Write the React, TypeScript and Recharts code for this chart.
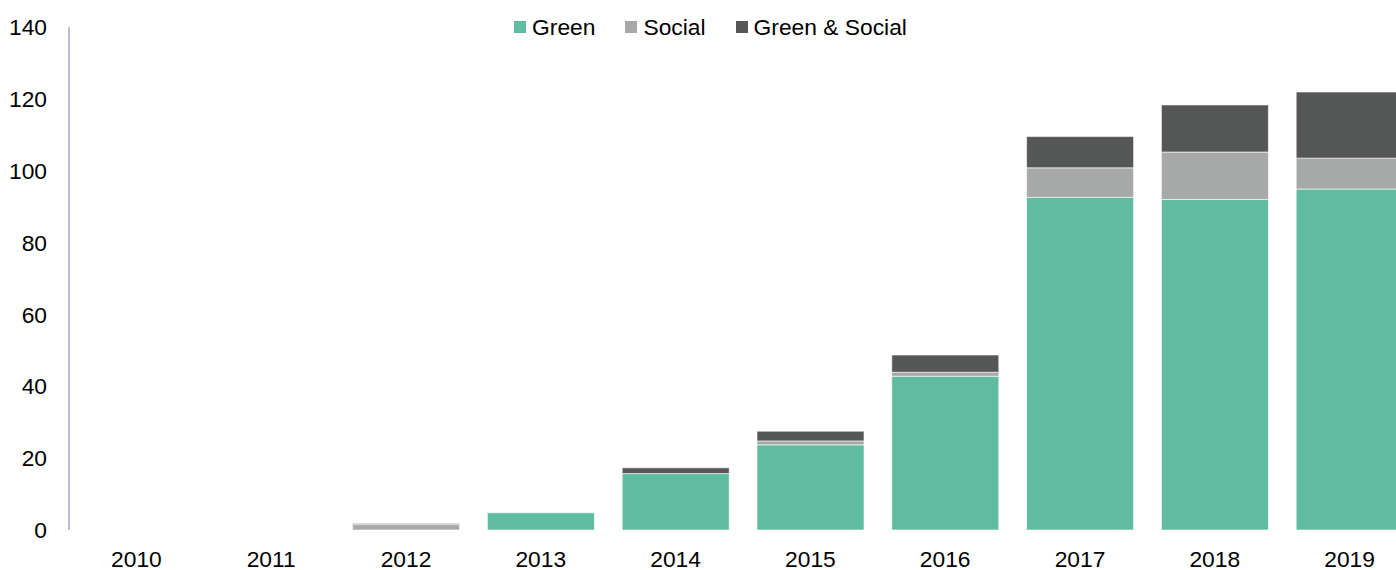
import React from 'react';
import { BarChart, Bar, XAxis, YAxis, Legend } from 'recharts';

const years = ['2010', '2011', '2012', '2013', '2014', '2015', '2016', '2017', '2018', '2019'];
const green = [0, 0, 0, 4.8, 15.7, 23.7, 42.8, 92.6, 92.0, 94.9];
const social = [0, 0, 1.5, 0, 0, 1.1, 1.1, 8.2, 13.2, 8.6];
const greenSocial = [0, 0, 0.3, 0, 1.6, 2.7, 4.8, 8.7, 13.1, 18.4];
const yTicks = [0, 20, 40, 60, 80, 100, 120, 140];

const seriesNames = ['Green', 'Social', 'Green & Social'];
const seriesColors = ['#5FBCA0', '#A7A9A8', '#555756'];

const data = years.map((y, i) => ({
  year: y,
  green: green[i],
  social: social[i],
  greenSocial: greenSocial[i],
}));

const W = 1421;
const H = 570;
const FS = 22.8;
const FONT = '"Liberation Sans", Arial, sans-serif';

const LegendContent = () => (
  <div
    style={{
      display: 'flex',
      justifyContent: 'center',
      alignItems: 'center',
      width: W,
      height: 22,
      fontFamily: FONT,
      fontSize: FS,
      lineHeight: '22px',
      color: '#000',
    }}
  >
    {seriesNames.map((n, i) => (
      <div key={n} style={{ display: 'flex', alignItems: 'center', marginRight: i < seriesNames.length - 1 ? 30 : 0 }}>
        <span style={{ display: 'inline-block', width: 12, height: 12, background: seriesColors[i], marginRight: 6 }} />
        <span>{n}</span>
      </div>
    ))}
  </div>
);

export default function App() {
  return (
    <div style={{ position: 'absolute', left: 0, top: 0, width: 1396, height: 570, overflow: 'hidden', background: '#fff' }}>
      <BarChart
        width={W}
        height={H}
        data={data}
        margin={{ top: 27, right: 4, bottom: 0, left: 0 }}
        style={{ fontFamily: FONT }}
      >
        <Legend
          verticalAlign="middle"
          layout="horizontal"
          content={<LegendContent />}
          wrapperStyle={{ top: 16, left: 0, width: W }}
        />
        <XAxis
          dataKey="year"
          axisLine={false}
          tickLine={false}
          tickSize={0}
          tickMargin={21}
          height={40}
          interval={0}
          tick={{ fontSize: FS, fill: '#000', fontFamily: FONT }}
        />
        <YAxis
          domain={[0, 140]}
          ticks={yTicks}
          interval={0}
          width={69}
          tickLine={false}
          tickSize={0}
          tickMargin={22}
          axisLine={{ stroke: '#A6A6C8', strokeWidth: 1.5 }}
          tick={{ fontSize: FS, fill: '#000', fontFamily: FONT }}
        />
        <Bar dataKey="green" name="Green" stackId="a" fill={seriesColors[0]} barSize={107} stroke="rgba(255,255,255,0.6)" strokeWidth={1} isAnimationActive={false} />
        <Bar dataKey="social" name="Social" stackId="a" fill={seriesColors[1]} barSize={107} stroke="rgba(255,255,255,0.6)" strokeWidth={1} isAnimationActive={false} />
        <Bar dataKey="greenSocial" name="Green & Social" stackId="a" fill={seriesColors[2]} barSize={107} stroke="rgba(255,255,255,0.6)" strokeWidth={1} isAnimationActive={false} />
      </BarChart>
    </div>
  );
}
